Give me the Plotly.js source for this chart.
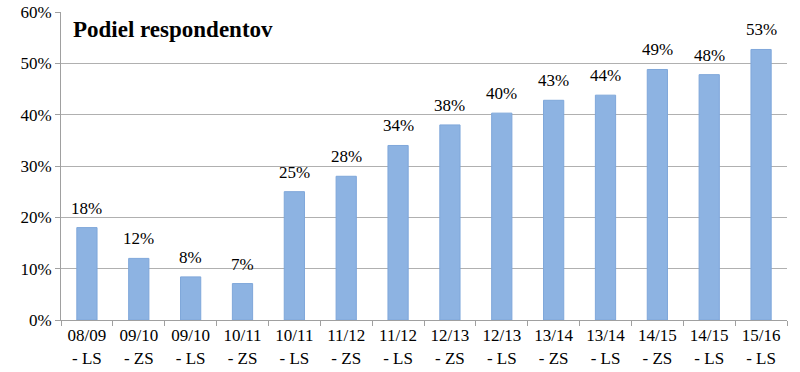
<!DOCTYPE html>
<html><head><meta charset="utf-8">
<script src="https://cdn.plot.ly/plotly-3.0.1.min.js"></script>
<style>html,body{margin:0;padding:0;background:#fff}#c{width:800px;height:372px}</style>
</head><body><div id="c"></div>
<script>
const categories = ["08/09<br>- LS","09/10<br>- ZS","09/10<br>- LS","10/11<br>- ZS","10/11<br>- LS","11/12<br>- ZS","11/12<br>- LS","12/13<br>- ZS","12/13<br>- LS","13/14<br>- ZS","13/14<br>- LS","14/15<br>- ZS","14/15<br>- LS","15/16<br>- LS"];
const shares = [18.0, 12.0, 8.4, 7.1, 25.0, 28.0, 34.0, 38.0, 40.3, 42.8, 43.8, 48.8, 47.8, 52.7];
const labels = ["18%","12%","8%","7%","25%","28%","34%","38%","40%","43%","44%","49%","48%","53%"];
const yTicks = [0,10,20,30,40,50,60];
const yTickText = ["0%","10%","20%","30%","40%","50%","60%"];
const chartTitle = "Podiel respondentov";

const font = "Liberation Serif, Times New Roman, serif";
const trace = {
  type: "bar", x: categories, y: shares,
  marker: {color: "#8db3e2", line: {color: "#7fa7da", width: 1}},
  hoverinfo: "none"
};
const annotations = categories.map((c, i) => ({
  x: c, y: shares[i], xref: "x", yref: "y", text: labels[i],
  showarrow: false, yanchor: "bottom", yshift: 8,
  font: {family: font, size: 17, color: "#000"}
}));
annotations.push({
  xref: "paper", yref: "paper", x: 0.014, y: 0.99, xanchor: "left", yanchor: "top",
  text: "<b>" + chartTitle + "</b>", showarrow: false,
  font: {family: font, size: 23, color: "#000"}
});
const layout = {
  width: 800, height: 372,
  margin: {l: 61, r: 13, t: 12, b: 52},
  paper_bgcolor: "#fff", plot_bgcolor: "#fff",
  bargap: 0.61,
  showlegend: false,
  font: {family: font, size: 17, color: "#000"},
  xaxis: {
    type: "category", tickson: "boundaries", ticks: "outside", ticklen: 5,
    tickcolor: "#a0a0a0", showline: true, linecolor: "#a0a0a0", linewidth: 1,
    showgrid: false, tickfont: {family: font, size: 17, color: "#000"}, fixedrange: true
  },
  yaxis: {
    range: [0, 60], tickvals: yTicks, ticktext: yTickText,
    ticks: "outside", ticklen: 5, tickcolor: "#a0a0a0",
    showline: true, linecolor: "#a0a0a0", linewidth: 1,
    showgrid: true, gridcolor: "#b0b0b0", gridwidth: 1, zeroline: false,
    tickfont: {family: font, size: 17, color: "#000"}, fixedrange: true
  },
  annotations: annotations
};
Plotly.newPlot("c", [trace], layout, {displayModeBar: false, staticPlot: true});
</script></body></html>
